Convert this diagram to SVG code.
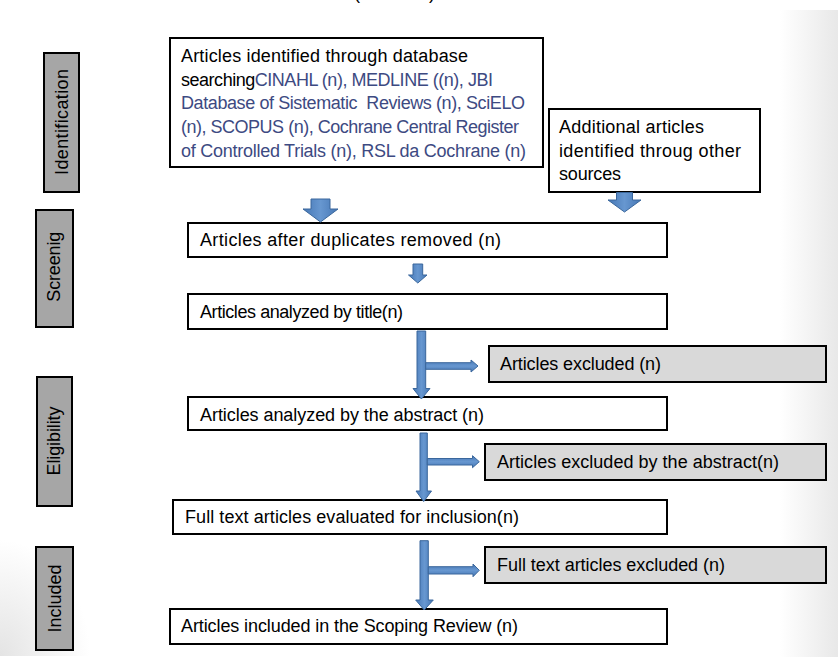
<svg xmlns="http://www.w3.org/2000/svg" width="838" height="657" viewBox="0 0 838 657">
<defs>
<style>
.box{fill:#ffffff;stroke:#000000;stroke-width:2}
.exc{fill:#d9d9d9;stroke:#000000;stroke-width:2}
.lab{fill:#a6a6a6;stroke:#000000;stroke-width:2}
.t{font-family:"Liberation Sans",Arial,sans-serif;font-size:18px;fill:#000000}
.b{fill:#3d4a82}
.arr{fill:url(#gv);stroke:#3a679c;stroke-width:1}
.arrh{fill:url(#gh);stroke:#3a679c;stroke-width:1}
</style>
<linearGradient id="gv" x1="0" y1="0" x2="1" y2="0">
<stop offset="0" stop-color="#4677b5"/>
<stop offset="0.5" stop-color="#6797d0"/>
<stop offset="1" stop-color="#4677b5"/>
</linearGradient>
<linearGradient id="gh" x1="0" y1="0" x2="0" y2="1">
<stop offset="0" stop-color="#4677b5"/>
<stop offset="0.5" stop-color="#6797d0"/>
<stop offset="1" stop-color="#4677b5"/>
</linearGradient>
<linearGradient id="bgR" x1="0" y1="0" x2="1" y2="0">
<stop offset="0" stop-color="#e8e8e8" stop-opacity="0"/>
<stop offset="1" stop-color="#e8e8e8" stop-opacity="1"/>
</linearGradient>
<radialGradient id="bgL" cx="0" cy="1" r="1">
<stop offset="0" stop-color="#e4e4e4" stop-opacity="1"/>
<stop offset="1" stop-color="#e4e4e4" stop-opacity="0"/>
</radialGradient>
</defs>
<rect x="0" y="0" width="838" height="657" fill="#ffffff"/>
<rect x="780" y="10" width="58" height="647" fill="url(#bgR)"/>
<rect x="0" y="540" width="90" height="116" fill="url(#bgL)"/>
<text class="t" x="354" y="-1" font-size="28" textLength="81">(            )</text>

<g id="label-identification">
<rect class="lab" x="44" y="53" width="35" height="139"/>
<text class="t" transform="translate(68,122) rotate(-90)" text-anchor="middle" textLength="106">Identification</text>
</g>
<g id="label-screening">
<rect class="lab" x="36" y="210" width="37" height="117"/>
<text class="t" transform="translate(60,266.7) rotate(-90)" text-anchor="middle" textLength="70">Screenig</text>
</g>
<g id="label-eligibility">
<rect class="lab" x="37" y="377" width="35" height="129"/>
<text class="t" transform="translate(60,441) rotate(-90)" text-anchor="middle" textLength="69">Eligibility</text>
</g>
<g id="label-included">
<rect class="lab" x="36" y="547" width="37" height="103"/>
<text class="t" transform="translate(60.5,598.5) rotate(-90)" text-anchor="middle" textLength="68">Included</text>
</g>

<g id="node-database">
<rect class="box" x="170" y="38" width="373" height="129"/>
<text class="t" x="181" y="62" textLength="287">Articles identified through database</text>
<text class="t" x="181" y="85.5" textLength="312">searching<tspan class="b">CINAHL (n), MEDLINE ((n), JBI</tspan></text>
<text class="t b" x="181" y="109" textLength="344" xml:space="preserve">Database of Sistematic  Reviews (n), SciELO</text>
<text class="t b" x="181" y="133" textLength="338">(n), SCOPUS (n), Cochrane Central Register</text>
<text class="t b" x="181" y="156.5" textLength="345">of Controlled Trials (n), RSL da Cochrane (n)</text>
</g>
<g id="node-additional">
<rect class="box" x="549" y="109" width="211" height="83"/>
<text class="t" x="559" y="132.5" textLength="145">Additional articles</text>
<text class="t" x="559" y="156.5" textLength="182">identified throug other</text>
<text class="t" x="559" y="180" textLength="62">sources</text>
</g>
<g id="node-duplicates">
<rect class="box" x="188" y="223" width="479" height="34"/>
<text class="t" x="200" y="246" textLength="301">Articles after duplicates removed (n)</text>
</g>
<g id="node-title">
<rect class="box" x="188" y="294" width="479" height="35"/>
<text class="t" x="200" y="317.5" textLength="203">Articles analyzed by title(n)</text>
</g>
<g id="node-excluded1">
<rect class="exc" x="489" y="346" width="337" height="36"/>
<text class="t" x="500" y="370" textLength="161">Articles excluded (n)</text>
</g>
<g id="node-abstract">
<rect class="box" x="188" y="397" width="479" height="33"/>
<text class="t" x="200" y="421" textLength="284">Articles analyzed by the abstract (n)</text>
</g>
<g id="node-excluded2">
<rect class="exc" x="485" y="444" width="341" height="36"/>
<text class="t" x="497" y="467.5" textLength="282">Articles excluded by the abstract(n)</text>
</g>
<g id="node-fulltext">
<rect class="box" x="173" y="500" width="494" height="34"/>
<text class="t" x="185" y="523.3" textLength="334">Full text articles evaluated for inclusion(n)</text>
</g>
<g id="node-excluded3">
<rect class="exc" x="485" y="547" width="341" height="36"/>
<text class="t" x="497" y="570.7" textLength="228">Full text articles excluded (n)</text>
</g>
<g id="node-included">
<rect class="box" x="170" y="609" width="497" height="35"/>
<text class="t" x="181" y="631.7" textLength="337">Articles included in the Scoping Review (n)</text>
</g>

<g id="connectors">
<polygon class="arr" points="311,199 330,199 330,209 338,209 320.5,222 303,209 311,209"/>
<polygon class="arr" points="616.5,192.5 632.5,192.5 632.5,200 641,200 624.5,212 608,200 616.5,200"/>
<polygon class="arr" points="413,264 422.7,264 422.7,275 427,275 417.8,283 408.5,275 413,275"/>
<polygon class="arr" points="417,331 425.7,331 425.7,388.5 430,388.5 421.4,399 413,388.5 417,388.5"/>
<polygon class="arrh" points="425.7,362.7 471,362.7 471,360 478,366 471,372 471,369.3 425.7,369.3"/>
<polygon class="arr" points="420,433 427.3,433 427.3,491 431.5,491 423.7,501.5 416,491 420,491"/>
<polygon class="arrh" points="427.3,458.5 472.5,458.5 472.5,455.7 479.3,461.7 472.5,467.7 472.5,465 427.3,465"/>
<polygon class="arr" points="420,540.7 428.3,540.7 428.3,600 433.3,600 424.2,610 415.7,600 420,600"/>
<polygon class="arrh" points="428.3,566.7 473,566.7 473,564 479.3,570.3 473,576.7 473,574 428.3,574"/>
</g>
</svg>
